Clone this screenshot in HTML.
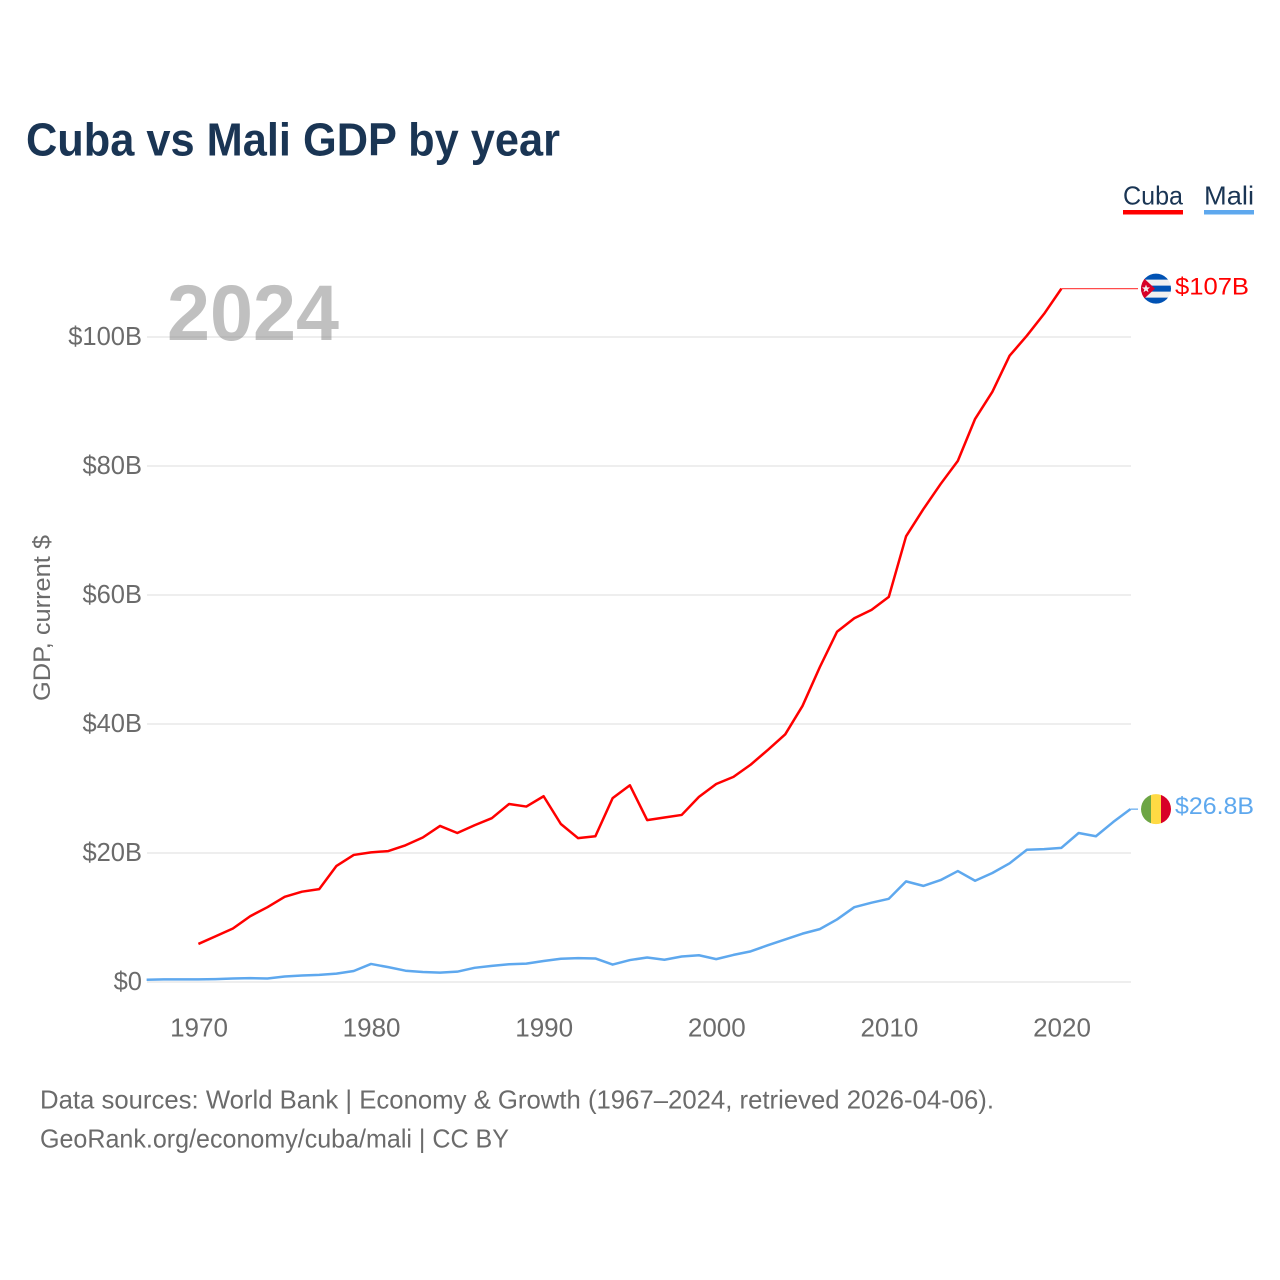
<!DOCTYPE html>
<html lang="en">
<head>
<meta charset="utf-8">
<title>Cuba vs Mali GDP by year</title>
<style>
html,body{margin:0;padding:0;background:#fff;width:1280px;height:1280px;overflow:hidden}
svg{display:block}
text{font-family:"Liberation Sans",sans-serif}
</style>
</head>
<body>
<svg id="chart" xmlns="http://www.w3.org/2000/svg" width="1280" height="1280" viewBox="0 0 1280 1280">
  <defs>
    <clipPath id="flag-clip"><circle cx="0" cy="0" r="15"></circle></clipPath>
  </defs>
  <text x="26" y="155.5" font-size="46" font-weight="700" fill="#1a3554" textLength="534" lengthAdjust="spacingAndGlyphs">Cuba vs Mali GDP by year</text>

  <g>
    <g>
      <text x="1123" y="204.5" font-size="26" fill="#1a3554" textLength="60" lengthAdjust="spacingAndGlyphs">Cuba</text>
      <rect x="1123" y="210" width="60" height="4.5" fill="#ff0000"></rect>
    </g>
    <g>
      <text x="1204" y="204.5" font-size="26" fill="#1a3554" textLength="50" lengthAdjust="spacingAndGlyphs">Mali</text>
      <rect x="1204" y="210" width="50" height="4.5" fill="#5ea8ee"></rect>
    </g>
  </g>

  <g id="grid"></g>
  <g id="yticks"></g>
  <g id="xticks"></g>

  <text x="167" y="340" font-size="79" font-weight="700" fill="#8c8c8c" fill-opacity="0.55" textLength="172" lengthAdjust="spacingAndGlyphs">2024</text>

  <text transform="translate(50,618) rotate(-90)" text-anchor="middle" font-size="24.5" fill="#6b6b6b" textLength="166" lengthAdjust="spacingAndGlyphs">GDP, current $</text>

  <g id="series"></g>

  <text x="40" y="1108.5" font-size="26" fill="#6b6b6b" textLength="954" lengthAdjust="spacingAndGlyphs">Data sources: World Bank | Economy &amp; Growth (1967–2024, retrieved 2026-04-06).</text>
  <text x="40" y="1147.5" font-size="26" fill="#6b6b6b" textLength="469" lengthAdjust="spacingAndGlyphs">GeoRank.org/economy/cuba/mali | CC BY</text>
</svg>
<script>
const cubaStartYear = 1970;
const cubaValues = [5.9,7.1,8.3,10.2,11.6,13.2,14.0,14.4,18.0,19.7,20.1,20.3,21.2,22.4,24.2,23.1,24.3,25.4,27.6,27.2,28.8,24.5,22.3,22.6,28.5,30.5,25.1,25.5,25.9,28.7,30.7,31.8,33.7,36.0,38.4,42.8,48.8,54.3,56.4,57.7,59.7,69.1,73.3,77.2,80.8,87.3,91.5,97.1,100.2,103.6,107.5];
const maliStartYear = 1967;
const maliValues = [0.35,0.4,0.4,0.4,0.45,0.55,0.6,0.55,0.85,1.0,1.1,1.3,1.7,2.8,2.3,1.75,1.55,1.45,1.6,2.2,2.5,2.75,2.85,3.25,3.6,3.7,3.65,2.7,3.4,3.8,3.45,3.95,4.15,3.55,4.2,4.75,5.7,6.6,7.5,8.2,9.7,11.6,12.3,12.9,15.6,14.9,15.8,17.2,15.7,16.9,18.4,20.5,20.6,20.8,23.1,22.6,24.8,26.8];
const yTickValues = [0,20,40,60,80,100];
const yTickLabels = ["$0","$20B","$40B","$60B","$80B","$100B"];
const xTickYears = [1970,1980,1990,2000,2010,2020];
const cubaEndLabel = "$107B";
const maliEndLabel = "$26.8B";

const NS = "http://www.w3.org/2000/svg";
const xScale = function (year) { return 198.4 + (year - 1970) * 17.26; };
const yScale = function (value) { return 982 - value * 6.45; };
const LEADER_END = 1138;
const FLAG_X = 1156;

function make(tag, attrs, parent, text) {
  const el = document.createElementNS(NS, tag);
  for (const k in attrs) el.setAttribute(k, attrs[k]);
  if (text !== undefined) el.textContent = text;
  parent.appendChild(el);
  return el;
}

const gridG = document.getElementById("grid");
const yG = document.getElementById("yticks");
yTickValues.forEach(function (v, i) {
  const line = make("line", {x1: 147, x2: 1131, y1: yScale(v), y2: yScale(v), stroke: "#eeeeee", "stroke-width": 2}, gridG);
  
  
  const label = make("text", {x: 142, y: yScale(v) + 8, "text-anchor": "end", "font-size": 25.5, fill: "#6b6b6b"}, yG, yTickLabels[i]);
  
  
});

const xG = document.getElementById("xticks");
xTickYears.forEach(function (yr) {
  const label = make("text", {x: xScale(yr) + 0.6, y: 1036.5, "text-anchor": "middle", "font-size": 26, fill: "#6b6b6b"}, xG, String(yr));
  
  
});

const seriesG = document.getElementById("series");

function linePath(values, startYear) {
  return values.map(function (v, i) {
    return (i ? "L" : "M") + xScale(startYear + i).toFixed(2) + " " + yScale(v).toFixed(2);
  }).join(" ");
}

function drawCubaFlag(parent, cy) {
  const g = make("g", {transform: "translate(" + FLAG_X + "," + cy + ")", "clip-path": "url(#flag-clip)"}, parent);
  
  
  make("rect", {x: -15, y: -15.5, width: 30, height: 31, fill: "#f0f0f0"}, g);
  make("rect", {x: -15, y: -15.5, width: 30, height: 6.5, fill: "#0052b4"}, g);
  make("rect", {x: -15, y: -3, width: 30, height: 6, fill: "#0052b4"}, g);
  make("rect", {x: -15, y: 9, width: 30, height: 6.5, fill: "#0052b4"}, g);
  make("path", {d: "M-15 -13 L-1 0 L-15 13 Z", fill: "#d80027"}, g);
  make("path", {d: "M-10 -4 L-8.9 -1.2 L-6 -1.2 L-8.3 0.7 L-7.5 3.6 L-10 1.9 L-12.5 3.6 L-11.7 0.7 L-14 -1.2 L-11.1 -1.2 Z", fill: "#f0f0f0"}, g);
}

function drawMaliFlag(parent, cy) {
  const g = make("g", {transform: "translate(" + FLAG_X + "," + cy + ")", "clip-path": "url(#flag-clip)"}, parent);
  
  
  make("rect", {x: -15, y: -15.5, width: 10, height: 31, fill: "#6da544"}, g);
  make("rect", {x: -5, y: -15.5, width: 10, height: 31, fill: "#ffda44"}, g);
  make("rect", {x: 5, y: -15.5, width: 10, height: 31, fill: "#d80027"}, g);
}

const maliLine = make("path", {d: linePath(maliValues, maliStartYear), fill: "none", stroke: "#5ea8ee", "stroke-width": 2.5, "stroke-linejoin": "round"}, seriesG);



const cubaLine = make("path", {d: linePath(cubaValues, cubaStartYear), fill: "none", stroke: "#ff0000", "stroke-width": 2.5, "stroke-linejoin": "round"}, seriesG);



const cubaLast = yScale(cubaValues[cubaValues.length - 1]);
const maliLast = yScale(maliValues[maliValues.length - 1]);
const cubaLastX = xScale(cubaStartYear + cubaValues.length - 1);
const maliLastX = xScale(maliStartYear + maliValues.length - 1);

const cubaLeader = make("line", {x1: cubaLastX, x2: LEADER_END, y1: cubaLast, y2: cubaLast, stroke: "#ff0000", "stroke-opacity": 0.7, "stroke-width": 1.2}, seriesG);



const maliLeader = make("line", {x1: maliLastX, x2: LEADER_END, y1: maliLast, y2: maliLast, stroke: "#5ea8ee", "stroke-width": 1.2}, seriesG);



drawCubaFlag(seriesG, cubaLast);
drawMaliFlag(seriesG, maliLast);

const cubaLabel = make("text", {x: 1175, y: cubaLast + 6, "font-size": 24.5, fill: "#ff0000", textLength: 74, lengthAdjust: "spacingAndGlyphs"}, seriesG, cubaEndLabel);



const maliLabel = make("text", {x: 1175, y: maliLast + 5, "font-size": 24.5, fill: "#5ea8ee", textLength: 79, lengthAdjust: "spacingAndGlyphs"}, seriesG, maliEndLabel);


</script>
</body>
</html>
